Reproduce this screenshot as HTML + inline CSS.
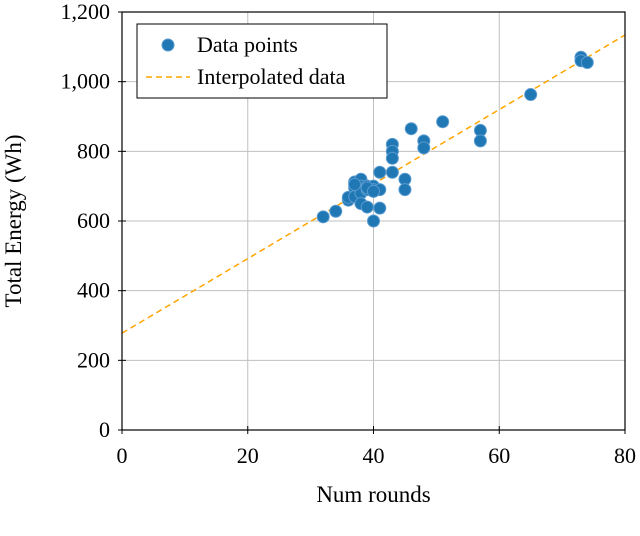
<!DOCTYPE html>
<html><head><meta charset="utf-8"><style>
body{margin:0;background:#fff;}
svg text{font-family:"Liberation Serif",serif;fill:#000;}
</style></head><body>
<svg width="640" height="531">
<g id="grid"></g>
<g id="marks"></g>
<g id="axes"></g>
</svg>
<script>
const xTicks=[0,20,40,60,80];
const yTicks=[0,200,400,600,800,1000,1200];
const yTickLabels=["0","200","400","600","800","1,000","1,200"];
const roundsX=[32,34,36,36,36,37,37,37,38,38,38,38,39,39,39,40,40,40,41,41,41,43,43,43,43,45,45,46,48,48,51,57,57,65,73,73,74,37,39,40];
const energyY=[612,628,665,660,668,712,695,670,720,700,680,650,700,640,690,700,690,600,690,740,637,820,800,780,740,720,690,865,830,810,885,860,830,963,1070,1060,1055,705,695,685];
const fitX=[0,80];
const fitY=[278,1134];
const NS="http://www.w3.org/2000/svg";
const L=122,R=625,T=12,B=430;
const sx=v=>L+(v-0)/80*(R-L);
const sy=v=>B-v/1200*(B-T);
function mk(t,a,p){const e=document.createElementNS(NS,t);for(const k in a)e.setAttribute(k,a[k]);p.appendChild(e);return e;}
const grid=document.getElementById('grid'),marks=document.getElementById('marks'),axes=document.getElementById('axes');
xTicks.forEach((v,i)=>{
 const g=mk('line',{x1:sx(v),x2:sx(v),y1:T,y2:B,stroke:'#c0c0c0','stroke-width':1},grid);
 
 
 const t=mk('text',{x:sx(v),y:B+33,'text-anchor':'middle','font-size':22},axes);t.textContent=v;
 
 
 mk('line',{x1:sx(v),x2:sx(v),y1:B-4,y2:B+4,stroke:'#000'},axes);
});
yTicks.forEach((v,i)=>{
 const g=mk('line',{x1:L,x2:R,y1:sy(v),y2:sy(v),stroke:'#c0c0c0','stroke-width':1},grid);
 
 
 const t=mk('text',{x:L-12,y:sy(v)+7,'text-anchor':'end','font-size':22},axes);t.textContent=yTickLabels[i];
 
 
 mk('line',{x1:L-4,x2:L+4,y1:sy(v),y2:sy(v),stroke:'#000'},axes);
});
const fl=mk('line',{x1:sx(fitX[0]),y1:sy(fitY[0]),x2:sx(fitX[1]),y2:sy(fitY[1]),stroke:'#ffa500','stroke-width':1.5,'stroke-dasharray':'6,4'},marks);


roundsX.forEach((x,i)=>{
 const c=mk('circle',{cx:sx(x),cy:sy(energyY[i]),r:6,fill:'#1f77b4',stroke:'#5a9bd0','stroke-width':1},marks);
 
 
});
const fr=mk('rect',{x:L,y:T,width:R-L,height:B-T,fill:'none',stroke:'#000','stroke-width':1.2},axes);


const xl=mk('text',{x:(L+R)/2,y:502,'text-anchor':'middle','font-size':23},axes);xl.textContent='Num rounds';


const yl=mk('text',{x:0,y:0,'text-anchor':'middle','font-size':23,transform:`translate(21,${(T+B)/2}) rotate(-90)`},axes);yl.textContent='Total Energy (Wh)';


const lg=mk('g',{},axes);


mk('rect',{x:137,y:24,width:250,height:74,fill:'#fff',stroke:'#000','stroke-width':1},lg);
mk('circle',{cx:168,cy:45,r:6,fill:'#1f77b4',stroke:'#5a9bd0'},lg);
const t1=mk('text',{x:197,y:52,'font-size':22},lg);t1.textContent='Data points';


mk('line',{x1:146,x2:190,y1:77,y2:77,stroke:'#ffa500','stroke-width':1.5,'stroke-dasharray':'6,4'},lg);
const t2=mk('text',{x:197,y:84,'font-size':22},lg);t2.textContent='Interpolated data';


</script>
</body></html>
